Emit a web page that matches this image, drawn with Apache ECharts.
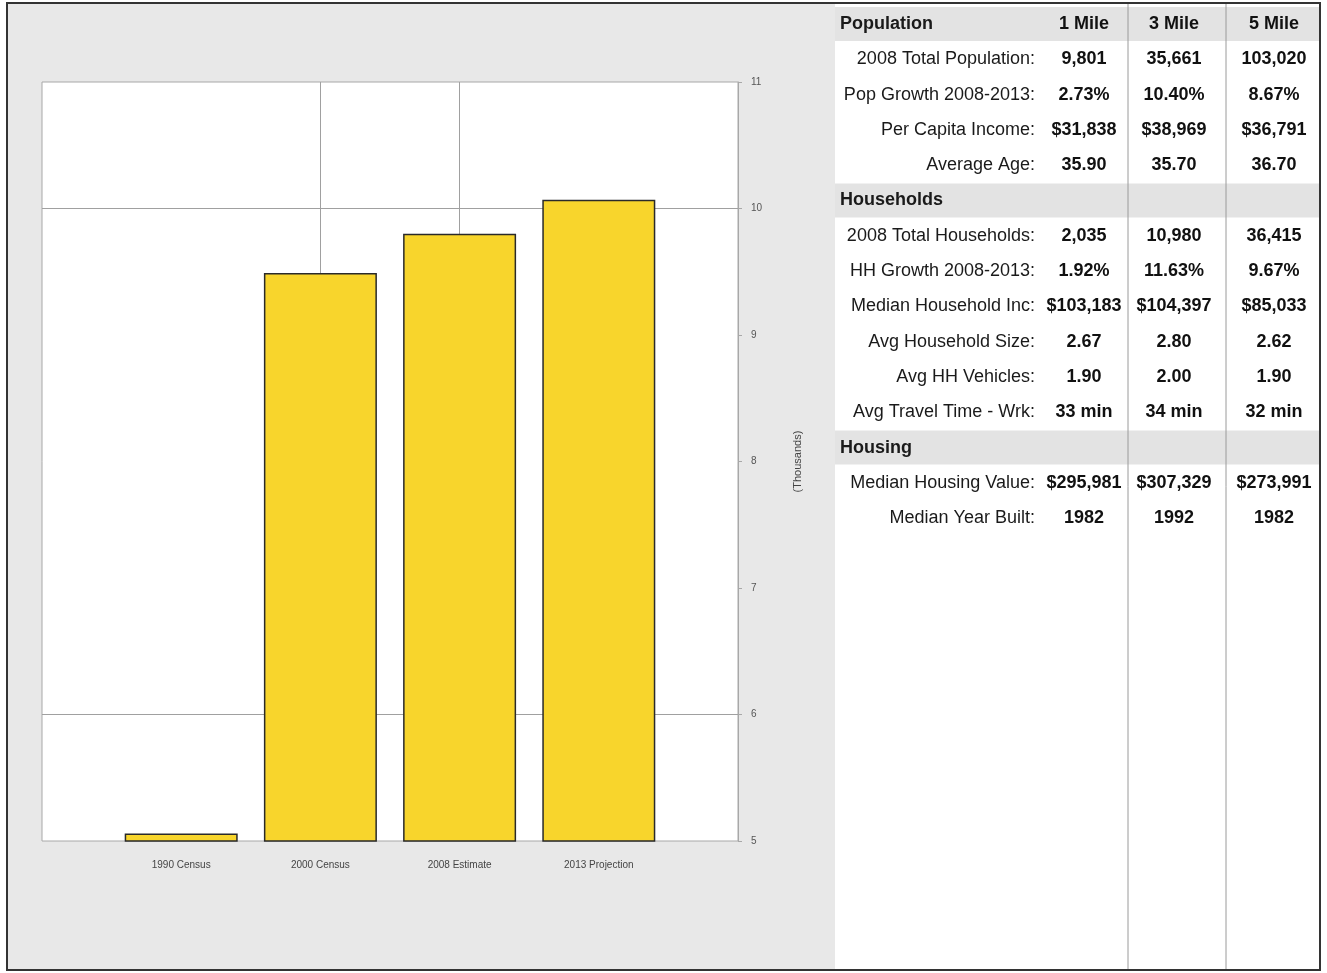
<!DOCTYPE html>
<html>
<head>
<meta charset="utf-8">
<script src="https://cdn.jsdelivr.net/npm/echarts@6/dist/echarts.min.js"></script>
<style>
html,body{margin:0;padding:0;background:#fff;}
#chart{width:1327px;height:973px;}
</style>
</head>
<body>
<div id="chart"></div>
<script>
// ---- chart data ----
const categories = ['1990 Census', '2000 Census', '2008 Estimate', '2013 Projection'];
const populationThousands = [5.06, 9.49, 9.801, 10.07];
const yTicks = [5, 6, 7, 8, 9, 10, 11];
const gridLinesY = [10, 6];
const gridLinesX = [1, 2];
const yAxisName = '(Thousands)';

// ---- table data ----
const tableLabels = ['Population', '2008 Total Population:', 'Pop Growth 2008-2013:', 'Per Capita Income:', 'Average Age:',
  'Households', '2008 Total Households:', 'HH Growth 2008-2013:', 'Median Household Inc:', 'Avg Household Size:', 'Avg HH Vehicles:', 'Avg Travel Time - Wrk:',
  'Housing', 'Median Housing Value:', 'Median Year Built:'];
const mile1 = ['1 Mile', '9,801', '2.73%', '$31,838', '35.90', '', '2,035', '1.92%', '$103,183', '2.67', '1.90', '33 min', '', '$295,981', '1982'];
const mile3 = ['3 Mile', '35,661', '10.40%', '$38,969', '35.70', '', '10,980', '11.63%', '$104,397', '2.80', '2.00', '34 min', '', '$307,329', '1992'];
const mile5 = ['5 Mile', '103,020', '8.67%', '$36,791', '36.70', '', '36,415', '9.67%', '$85,033', '2.62', '1.90', '32 min', '', '$273,991', '1982'];
const sectionRows = [0, 5, 12];

const FONT = "'Liberation Sans', Arial, sans-serif";

const chart = echarts.init(document.getElementById('chart'));

// layout constants
const TBL_X = 835, TBL_R = 1320, ROW0 = 24, ROW_H = 35.3;
const colCenters = [1084, 1174, 1274];
const sepX = [1128, 1226];
const labelRight = 1035;

const graphics = [];
graphics.push({type: 'rect', z: -10, shape: {x: 7, y: 3, width: 1313, height: 967},
  style: {fill: '#e8e8e8', stroke: null}});
graphics.push({type: 'rect', z: 10, shape: {x: TBL_X, y: 3, width: TBL_R - TBL_X, height: 967},
  style: {fill: '#ffffff'}});
sectionRows.forEach(r => {
  const cy = ROW0 + ROW_H * r;
  graphics.push({type: 'rect', z: 11, shape: {x: TBL_X, y: cy - 17, width: TBL_R - TBL_X, height: 34},
    style: {fill: '#e3e3e3'}});
});
sepX.forEach(x => {
  graphics.push({type: 'line', z: 12, shape: {x1: x, y1: 4, x2: x, y2: 969},
    style: {stroke: '#9a9a9a', lineWidth: 1}});
});
tableLabels.forEach((lab, r) => {
  const cy = ROW0 + ROW_H * r;
  const isSection = sectionRows.indexOf(r) >= 0;
  graphics.push({type: 'text', z: 13, style: {
    text: lab, x: isSection ? 840 : labelRight, y: cy,
    textAlign: isSection ? 'left' : 'right', textVerticalAlign: 'middle',
    fill: '#1a1a1a', font: (isSection ? 'bold ' : '') + '18px ' + FONT}});
  [mile1, mile3, mile5].forEach((col, c) => {
    if (!col[r]) return;
    graphics.push({type: 'text', z: 13, style: {
      text: col[r], x: colCenters[c], y: cy, textAlign: 'center', textVerticalAlign: 'middle',
      fill: '#111', font: 'bold 18px ' + FONT}});
  });
});
graphics.push({type: 'rect', z: 30, shape: {x: 7, y: 3, width: 1313, height: 967},
  style: {fill: null, stroke: '#333', lineWidth: 2}});

const option = {
  backgroundColor: '#ffffff',
  animation: false,
  graphic: graphics,
  grid: {left: 42, right: 589, top: 82, bottom: 132, show: true,
    backgroundColor: '#ffffff', borderColor: '#a8a8a8', borderWidth: 1},
  xAxis: {
    type: 'value', min: -1, max: 4, interval: 1,
    axisLine: {show: false, onZero: false}, axisTick: {show: false}, splitLine: {show: false},
    axisLabel: {margin: 19, color: '#444', fontSize: 10, fontFamily: FONT,
      formatter: v => (categories[v] !== undefined ? categories[v] : '')}
  },
  yAxis: {
    type: 'value', position: 'right', min: yTicks[0], max: yTicks[yTicks.length - 1], interval: 1,
    axisLine: {show: true, onZero: false, lineStyle: {color: '#a8a8a8'}},
    axisTick: {show: true, length: 4, lineStyle: {color: '#a8a8a8'}},
    splitLine: {show: false},
    axisLabel: {margin: 13, color: '#555', fontSize: 10, fontFamily: FONT},
    name: yAxisName, nameLocation: 'middle', nameGap: 54, nameRotate: 90,
    nameTextStyle: {color: '#444', fontSize: 11, fontFamily: FONT}
  },
  series: [{
    type: 'bar',
    barWidth: 113,
    data: categories.map((c, i) => [i, populationThousands[i]]),
    itemStyle: {color: '#f8d52c', borderColor: '#2a2a2a', borderWidth: 1.5},
    markLine: {
      z: 1, silent: true, symbol: 'none', animation: false,
      label: {show: false},
      lineStyle: {color: '#a0a0a0', type: 'solid', width: 1},
      data: gridLinesY.map(v => ({yAxis: v})).concat(gridLinesX.map(v => ({xAxis: v})))
    }
  }]
};
chart.setOption(option);
</script>
</body>
</html>
